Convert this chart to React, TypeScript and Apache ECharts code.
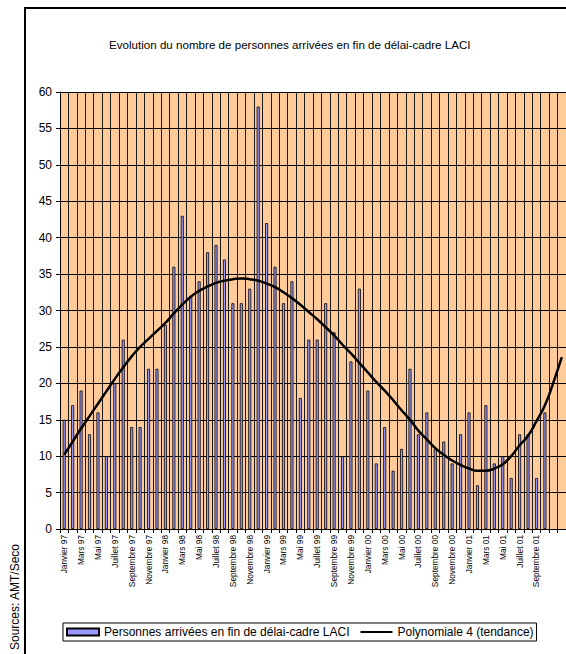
import React, { useEffect, useRef } from "react";
import * as echarts from "echarts";

const titleText = "Evolution du nombre de personnes arrivées en fin de délai-cadre LACI";
const sourceText = "Sources: AMT/Seco";
const barName = "Personnes arrivées en fin de délai-cadre LACI";
const lineName = "Polynomiale 4 (tendance)";

const months = ["Janvier", "Février", "Mars", "Avril", "Mai", "Juin", "Juillet", "Août", "Septembre", "Octobre", "Novembre", "Décembre"];
const years = ["97", "98", "99", "00", "01"];

const categories: string[] = [];
years.forEach((y) => months.forEach((m) => categories.push(m + " " + y)));
// The last two months have no category text in the source.
categories[58] = "";
categories[59] = " ";

const arrivals: (number | null)[] = [
  15, 17, 19, 13, 16, 10, 20, 26, 14, 14, 22, 22,
  28, 36, 43, 32, 34, 38, 39, 37, 31, 31, 33, 58,
  42, 36, 31, 34, 18, 26, 26, 31, 27, 10, 23, 33,
  19, 9, 14, 8, 11, 22, 13, 16, 11, 12, 9, 13,
  16, 6, 17, 9, 10, 7, 13, 13, 7, 16, null, null,
];

const trend: number[] = [
  10.2, 12.0, 13.8, 15.5, 17.2, 18.9, 20.6, 22.2, 23.7, 25.0, 26.1, 27.2,
  28.3, 29.6, 30.8, 31.9, 32.7, 33.3, 33.8, 34.1, 34.3, 34.4, 34.3, 34.1,
  33.7, 33.2, 32.5, 31.7, 30.8, 29.8, 28.8, 27.7, 26.6, 25.3, 24.1, 22.8,
  21.5, 20.2, 19.0, 17.7, 16.3, 15.0, 13.5, 12.3, 11.1, 10.2, 9.4, 8.8,
  8.3, 8.0, 8.0, 8.3, 8.9, 10.0, 11.5, 12.8, 14.8, 17.0, 20.1, 23.6,
];

const FONT = "'Liberation Sans', Arial, sans-serif";

export default function App() {
  const ref = useRef<HTMLDivElement>(null);
  useEffect(() => {
    if (!ref.current) return;
    const chart = echarts.init(ref.current, undefined, { renderer: "svg" });
    chart.setOption({
      animation: false,
      backgroundColor: "#fff",
      textStyle: { fontFamily: FONT, color: "#000" },
      title: {
        text: titleText,
        left: 104,
        top: 33,
        textStyle: { fontSize: 11.6, fontWeight: "normal", color: "#000", fontFamily: FONT },
      },
      grid: {
        left: 60,
        right: -4,
        top: 92,
        bottom: 125,
        show: true,
        backgroundColor: "#FFCC99",
        borderWidth: 0,
      },
      legend: {
        left: 63,
        top: 623,
        orient: "horizontal",
        borderColor: "#000",
        borderWidth: 1,
        padding: [3, 3],
        itemWidth: 32,
        itemHeight: 7,
        itemGap: 10,
        textStyle: { fontSize: 12, color: "#000", fontFamily: FONT },
        data: [
          { name: barName, icon: "rect" },
          { name: lineName, itemStyle: { opacity: 0 } },
        ],
      },
      xAxis: {
        type: "category",
        data: categories,
        boundaryGap: true,
        axisLine: { show: true, lineStyle: { color: "#000", width: 1 } },
        axisTick: { show: true, interval: 0, length: 4, lineStyle: { color: "#000" } },
        axisLabel: {
          interval: 1,
          rotate: 90,
          fontSize: 8.3,
          margin: 6,
          color: "#000",
          fontFamily: FONT,
        },
        splitLine: { show: true, interval: 0, lineStyle: { color: "#1a1a1a", width: 1 } },
      },
      yAxis: {
        type: "value",
        min: 0,
        max: 60,
        interval: 5,
        axisLine: { show: true, lineStyle: { color: "#000", width: 1 } },
        axisTick: { show: true, length: 4, lineStyle: { color: "#000" } },
        axisLabel: { fontSize: 12, color: "#000", margin: 8, fontFamily: FONT },
        splitLine: { show: true, lineStyle: { color: "#000", width: 1 } },
      },
      series: [
        {
          name: barName,
          type: "bar",
          data: arrivals,
          barWidth: 3,
          itemStyle: { color: "#9999FF", borderColor: "#000", borderWidth: 0.8 },
        },
        {
          name: lineName,
          type: "line",
          data: trend,
          smooth: true,
          symbol: "none",
          lineStyle: { color: "#000", width: 2.5 },
          itemStyle: { color: "#000" },
          z: 5,
        },
      ],
      graphic: [
        {
          type: "rect",
          shape: { x: 25, y: 8, width: 620, height: 700 },
          style: { fill: "none", stroke: "#000", lineWidth: 2 },
          silent: true,
        },
        {
          type: "text",
          x: 15,
          y: 597,
          rotation: Math.PI / 2,
          style: {
            text: sourceText,
            fontSize: 12,
            fontFamily: FONT,
            fill: "#000",
            align: "center",
            verticalAlign: "middle",
          },
        },
      ],
    });
    return () => chart.dispose();
  }, []);
  return (
    <div
      ref={ref}
      style={{ position: "fixed", left: 0, top: 0, width: 566, height: 654 }}
    />
  );
}
